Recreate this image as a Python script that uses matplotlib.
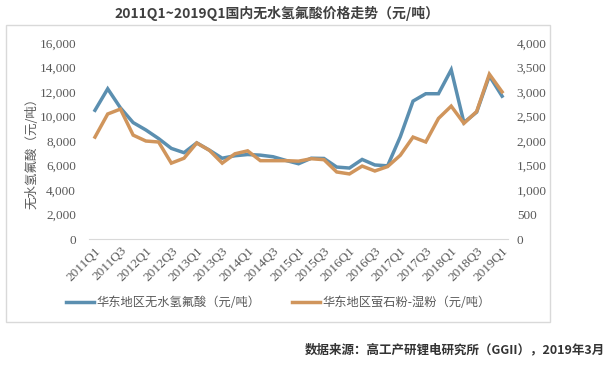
import matplotlib
matplotlib.use("Agg")
import matplotlib.pyplot as plt
from matplotlib.patches import Rectangle
from matplotlib.ticker import FuncFormatter

plt.rcParams['font.family'] = ['Noto Sans CJK SC', 'DejaVu Sans']

quarters = [f"{y}Q{q}" for y in range(2011, 2020) for q in range(1, 5)][:33]

# 华东地区无水氢氟酸 (元/吨), left axis
hf_price = [10500, 12250, 10700, 9500, 8900, 8200, 7400, 7050, 7850, 7250,
            6600, 6800, 6900, 6850, 6720, 6420, 6150, 6600, 6580, 5880,
            5800, 6500, 6050, 5980, 8350, 11250, 11850, 11850, 13800, 9500,
            10350, 13300, 11650]

# 华东地区萤石粉-湿粉 (元/吨), right axis
fluorite_price = [2080, 2550, 2650, 2120, 2000, 1980, 1550, 1650, 1960, 1810,
                  1550, 1740, 1800, 1600, 1600, 1600, 1590, 1640, 1620, 1370,
                  1330, 1490, 1390, 1480, 1710, 2080, 1980, 2460, 2710, 2360,
                  2600, 3360, 3000]

title = "2011Q1~2019Q1国内无水氢氟酸价格走势（元/吨）"
left_label = "无水氢氟酸（元/吨）"
names = ["华东地区无水氢氟酸（元/吨）", "华东地区萤石粉-湿粉（元/吨）"]
source = "数据来源：高工产研锂电研究所（GGII），2019年3月"

blue = '#5b8fb0'
orange = '#d0955c'
grey = '#595959'

fig = plt.figure(figsize=(6.12, 3.66), dpi=100)

# chart frame
fig.patches.append(Rectangle((0.0098, 0.1202), 0.889, 0.8115, transform=fig.transFigure,
                             fill=False, edgecolor='#d9d9d9', linewidth=1))

ax = fig.add_axes([0.1448, 0.3462, 0.686, 0.537])
ax2 = ax.twinx()

x = list(range(len(quarters)))
l1, = ax.plot(x, hf_price, color=blue, linewidth=2.5, solid_joinstyle='miter')
l2, = ax2.plot(x, fluorite_price, color=orange, linewidth=2.5, solid_joinstyle='miter')

ax.set_xlim(-0.5, len(quarters) - 0.5)
ax.set_ylim(0, 16000)
ax2.set_ylim(0, 4000)
ax.set_yticks(range(0, 16001, 2000))
ax2.set_yticks(range(0, 4001, 500))
fmt = FuncFormatter(lambda v, p: f"{int(v):,}")
ax.yaxis.set_major_formatter(fmt)
ax2.yaxis.set_major_formatter(fmt)

ax.set_xticks(x[::2])
ax.set_xticklabels(quarters[::2], rotation=45, ha='right', va='top',
                   rotation_mode='anchor', family='Liberation Serif', fontsize=9.5, color=grey)

for a in (ax, ax2):
    for s in a.spines.values():
        s.set_visible(False)
    a.tick_params(length=0)
ax.spines['bottom'].set_visible(True)
ax.spines['bottom'].set_color('#d9d9d9')
ax.tick_params(axis='x', pad=4)
ax.tick_params(axis='y', pad=9)
ax2.tick_params(axis='y', pad=6)
for t in ax.get_yticklabels() + ax2.get_yticklabels():
    t.set_family('Liberation Serif')
    t.set_fontsize(9.5)
    t.set_color(grey)

fig.text(0.052, 0.59, left_label, rotation=90, ha='center', va='center',
         fontsize=9, color=grey)

fig.legend([l1, l2], names, loc='center', bbox_to_anchor=(0.455, 0.173), ncol=2,
           frameon=False, fontsize=8.8, handlelength=2.3, handletextpad=0.2,
           columnspacing=2.6, labelcolor=grey)

fig.text(0.452, 0.964, title, ha='center', va='center', fontsize=10,
         fontweight='bold', color='#404040')
fig.text(0.988, 0.044, source, ha='right', va='center', fontsize=9,
         fontweight='bold', color='#333333')

fig.savefig('out.png', dpi=100)
